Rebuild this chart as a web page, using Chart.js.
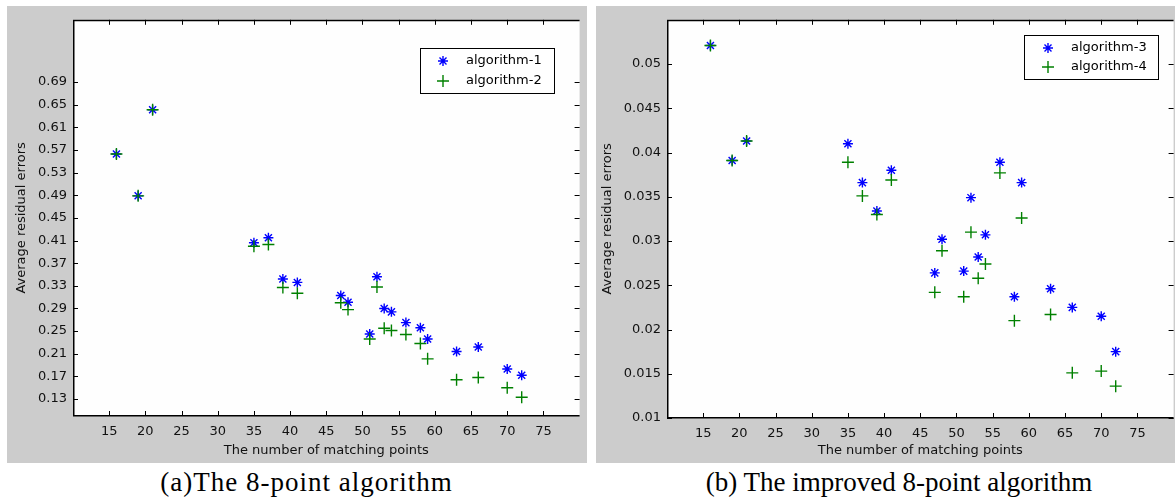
<!DOCTYPE html>
<html>
<head>
<meta charset="utf-8">
<script src="https://cdn.jsdelivr.net/npm/chart.js@4/dist/chart.umd.min.js"></script>
<style>
  html, body { margin:0; padding:0; background:#fff; width:1175px; height:503px; overflow:hidden; }
  .panel { position:absolute; top:6px; height:457px; background:#cccccc; overflow:hidden; }
  #pa { left:7px; width:580px; }
  #pb { left:596px; width:590px; }
  .cap { position:absolute; top:467px; font-family:"Liberation Serif", "Times New Roman", serif; font-size:27px; line-height:30px; color:#000; text-align:center; white-space:nowrap; }
</style>
</head>
<body>
<div class="panel" id="pa"><canvas id="chartA" width="580" height="457"></canvas></div>
<div class="panel" id="pb"><canvas id="chartB" width="585" height="457"></canvas></div>
<div class="cap" style="left:0;width:613px;letter-spacing:1px">(a)The 8-point algorithm</div>
<div class="cap" style="left:599px;width:600px">(b) The improved 8-point algorithm</div>

<script>
// data
const matchPoints = [16, 19, 21, 35, 37, 39, 41, 47, 48, 51, 52, 53, 54, 56, 58, 59, 63, 66, 70, 72];
const alg1 = [0.563, 0.489, 0.641, 0.406, 0.415, 0.342, 0.336, 0.313, 0.301, 0.245, 0.346, 0.290, 0.284, 0.265, 0.256, 0.236, 0.214, 0.222, 0.183, 0.172];
const alg2 = [0.563, 0.489, 0.641, 0.400, 0.403, 0.327, 0.317, 0.300, 0.288, 0.236, 0.328, 0.255, 0.251, 0.244, 0.228, 0.201, 0.164, 0.168, 0.150, 0.133];
const alg3 = [0.0521, 0.0391, 0.0413, 0.0410, 0.0366, 0.0334, 0.0380, 0.0264, 0.0302, 0.0266, 0.0349, 0.0282, 0.0307, 0.0389, 0.0237, 0.0366, 0.0246, 0.0225, 0.0215, 0.0175];
const alg4 = [0.0521, 0.0391, 0.0413, 0.0389, 0.0351, 0.0330, 0.0369, 0.0242, 0.0289, 0.0237, 0.0310, 0.0258, 0.0274, 0.0377, 0.0210, 0.0326, 0.0217, 0.0151, 0.0153, 0.0136];

const xTicks = [15, 20, 25, 30, 35, 40, 45, 50, 55, 60, 65, 70, 75];
const yTicksA = [0.13, 0.17, 0.21, 0.25, 0.29, 0.33, 0.37, 0.41, 0.45, 0.49, 0.53, 0.57, 0.61, 0.65, 0.69];
const yTicksB = [0.01, 0.015, 0.02, 0.025, 0.03, 0.035, 0.04, 0.045, 0.05];

const legendA = ["algorithm-1", "algorithm-2"];
const legendB = ["algorithm-3", "algorithm-4"];

const BLUE = "#0000ff";
const GREEN = "#008000";
const FONT = "'DejaVu Sans', sans-serif";

function pts(ys){ return matchPoints.map((x, i) => ({ x, y: ys[i] })); }

function marker(ctx, style, color, lw, r, x, y) {
  ctx.strokeStyle = color;
  ctx.lineWidth = lw;
  ctx.beginPath();
  ctx.moveTo(x - r, y); ctx.lineTo(x + r, y);
  ctx.moveTo(x, y - r); ctx.lineTo(x, y + r);
  if (style === "star") {
    const d = r * 0.7;
    ctx.moveTo(x - d, y - d); ctx.lineTo(x + d, y + d);
    ctx.moveTo(x - d, y + d); ctx.lineTo(x + d, y - d);
  }
  ctx.stroke();
}

// white plot area, MATLAB-style box with inward ticks, legend
const boxPlugin = {
  id: "box",
  beforeDatasetsDraw(chart) {
    const { ctx, chartArea: a } = chart;
    ctx.save();
    ctx.fillStyle = "#fefefe";
    ctx.fillRect(a.left, a.top, a.right - a.left, a.bottom - a.top);
    ctx.restore();
  },
  afterDraw(chart) {
    const { ctx, chartArea: a, scales } = chart;
    ctx.save();
    ctx.strokeStyle = "#000";
    ctx.lineWidth = 1.5;
    ctx.beginPath();
    ctx.moveTo(a.left, a.top + 0.75); ctx.lineTo(a.right, a.top + 0.75);
    ctx.moveTo(a.left + 0.75, a.top); ctx.lineTo(a.left + 0.75, a.bottom);
    ctx.moveTo(a.left, a.bottom - 0.25); ctx.lineTo(a.right, a.bottom - 0.25);
    ctx.stroke();
    ctx.lineWidth = 1;
    ctx.beginPath();
    scales.x.ticks.forEach(t => {
      const px = Math.round(scales.x.getPixelForValue(t.value)) + 0.5;
      ctx.moveTo(px, a.bottom); ctx.lineTo(px, a.bottom - 5);
      ctx.moveTo(px, a.top); ctx.lineTo(px, a.top + 5);
    });
    scales.y.ticks.forEach(t => {
      const py = Math.round(scales.y.getPixelForValue(t.value)) + 0.5;
      ctx.moveTo(a.left, py); ctx.lineTo(a.left + 5, py);
      ctx.moveTo(a.right, py); ctx.lineTo(a.right - 5, py);
    });
    ctx.stroke();

    // legend box
    const lg = chart.options.plugins.box;
    ctx.fillStyle = "#fff";
    ctx.fillRect(lg.x, lg.y, lg.w, lg.h);
    ctx.strokeStyle = "#000";
    ctx.lineWidth = 1;
    ctx.strokeRect(lg.x + 0.5, lg.y + 0.5, lg.w, lg.h);
    ctx.font = "13px " + FONT;
    ctx.textBaseline = "middle";
    chart.data.datasets.forEach((ds, i) => {
      const cy = lg.y + lg.rows[i];
      marker(ctx, ds.pointStyle, ds.borderColor, ds.borderWidth, ds.pointRadius, lg.x + lg.mx, cy);
      ctx.fillStyle = "#000";
      ctx.fillText(lg.labels[i], lg.x + lg.tx, cy);
    });
    ctx.restore();
  }
};

function makeChart(id, s1, s2, yMin, yMax, yTicks, opts) {
  return new Chart(document.getElementById(id), {
    type: "scatter",
    data: {
      datasets: [
        { data: pts(s1), pointStyle: "star", pointRadius: 5, borderWidth: 1.4,
          borderColor: BLUE, backgroundColor: BLUE, order: 1 },
        { data: pts(s2), pointStyle: "cross", pointRadius: 6, borderWidth: 1.4,
          borderColor: GREEN, backgroundColor: GREEN, order: 0 }
      ]
    },
    options: {
      responsive: false,
      animation: false,
      devicePixelRatio: 1,
      layout: { padding: { top: opts.padTop, left: 0, right: 0, bottom: 0 } },
      plugins: {
        legend: { display: false },
        tooltip: { enabled: false },
        box: opts.legend
      },
      scales: {
        x: {
          type: "linear", min: 10, max: 80,
          afterBuildTicks: s => { s.ticks = xTicks.map(v => ({ value: v })); },
          afterFit: s => { s.height = opts.xHeight; },
          grid: { display: false, drawTicks: false },
          border: { display: false },
          ticks: { autoSkip: false, maxRotation: 0, padding: 8, color: "#111",
                   font: { family: FONT, size: 13 }, callback: v => String(v) },
          title: { display: true, text: "The number of matching points", color: "#111",
                   font: { family: FONT, size: 13 }, padding: { top: 0, bottom: 5 } }
        },
        y: {
          type: "linear", min: yMin, max: yMax,
          afterBuildTicks: s => { s.ticks = yTicks.map(v => ({ value: v })); },
          afterFit: s => { s.width = opts.yWidth; },
          grid: { display: false, drawTicks: false },
          border: { display: false },
          ticks: { autoSkip: false, padding: 6, color: "#111",
                   font: { family: FONT, size: 13 }, callback: v => String(v) },
          title: { display: true, text: "Average residual errors", color: "#111",
                   font: { family: FONT, size: 13 }, padding: { top: opts.yTitlePad, bottom: 0 } }
        }
      }
    },
    plugins: [boxPlugin]
  });
}

makeChart("chartA", alg1, alg2, 0.1, 0.8, yTicksA, {
  padTop: 0, xHeight: 47, yWidth: 66, yTitlePad: 7,
  legend: { x: 413, y: 42, w: 134, h: 45, mx: 23, tx: 46, rows: [13, 33], labels: legendA }
});
makeChart("chartB", alg3, alg4, 0.01, 0.055, yTicksB, {
  padTop: 3, xHeight: 45, yWidth: 71, yTitlePad: 4,
  legend: { x: 428, y: 29, w: 134, h: 44, mx: 24, tx: 47, rows: [13, 32], labels: legendB }
});
</script>
</body>
</html>
